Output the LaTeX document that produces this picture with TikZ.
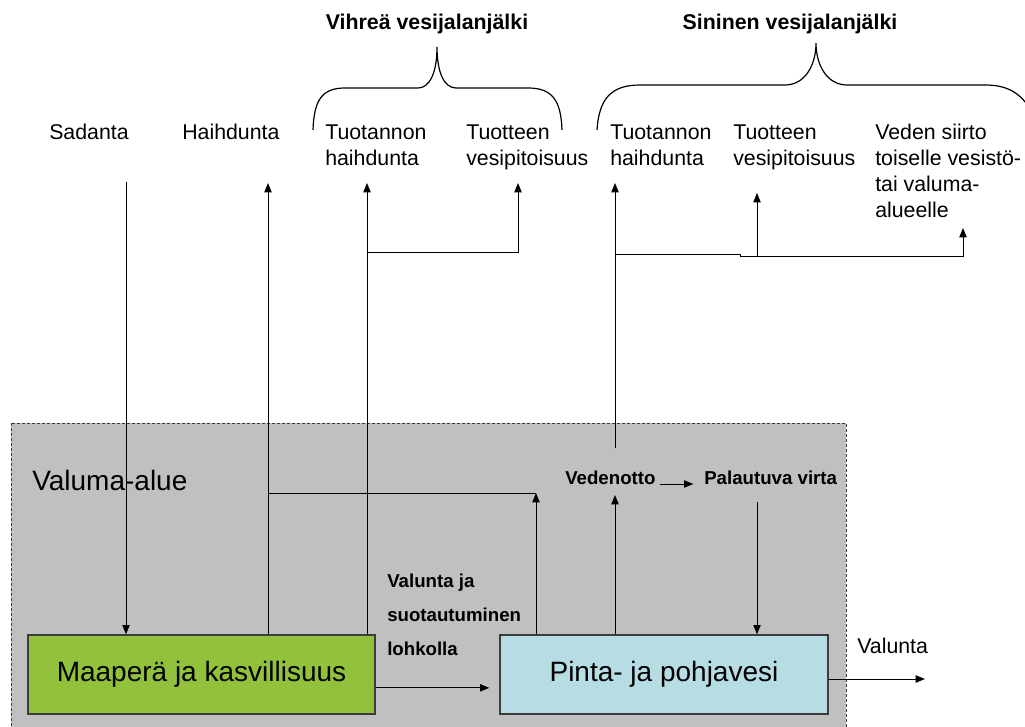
\documentclass[tikz,border=0pt]{standalone}
\usepackage{fontspec}
\setmainfont{Liberation Sans}
\usetikzlibrary{arrows.meta,positioning}

\definecolor{catchgray}{RGB}{192,192,192}
\definecolor{soilgreen}{RGB}{146,194,60}
\definecolor{waterblue}{RGB}{183,221,228}
\definecolor{edgegray}{RGB}{60,60,60}

\tikzset{
  lbl/.style={font=\fontsize{16}{19.5}\selectfont,align=left,inner sep=0pt,anchor=base west},
  ftitle/.style={font=\bfseries\fontsize{16}{19.5}\selectfont,inner sep=0pt,anchor=base},
  flow/.style={font=\bfseries\fontsize{14}{25.5}\selectfont,align=left,inner sep=0pt,anchor=base west},
  bigl/.style={font=\fontsize{21}{25}\selectfont,inner sep=0pt,anchor=base west},
  store/.style={draw=edgegray,line width=1pt,minimum height=59.25pt,inner sep=0pt,font=\fontsize{21}{25}\selectfont},
  link/.style={->,line width=0.75pt},
  brace/.style={line width=0.9pt},
  >={Triangle[length=7pt,width=5.5pt]}
}

\begin{document}
\begin{tikzpicture}[x=0.75pt,y=-0.75pt]
\useasboundingbox (0,0) rectangle (1025,727);

\draw [fill=catchgray,draw=edgegray,line width=0.75pt,dash pattern=on 2.25pt off 1.5pt] (11,423) rectangle (846,745);

\node (vihrea) at (427,30)[ftitle] {Vihreä vesijalanjälki};
\node (sininen) at (790,30)[ftitle] {Sininen vesijalanjälki};
\draw [brace] (313,130) .. controls (314,100) and (322,88) .. (345,88) -- (418,88) .. controls (430,88) and (437,72) .. (437,47) .. controls (437,72) and (444,88) .. (456,88) -- (528,88) .. controls (552,88) and (561,100) .. (562,130);
\draw [brace] (597,130) .. controls (599,100) and (610,85) .. (640,85) -- (785,85) .. controls (805,85) and (816,65) .. (816,43) .. controls (816,65) and (827,85) .. (847,85) -- (985,85) .. controls (1010,85) and (1022,95) .. (1032,112);

\node (sad) at (49,140)[lbl] {Sadanta};
\node (hai) at (182,140)[lbl] {Haihdunta};
\node (gTh) at (325,166)[lbl] {Tuotannon\\haihdunta};
\node (gTv) at (466,166)[lbl] {Tuotteen\\vesipitoisuus};
\node (bTh) at (610,166)[lbl] {Tuotannon\\haihdunta};
\node (bTv) at (733,166)[lbl] {Tuotteen\\vesipitoisuus};
\node (siirto) at (875,218)[lbl] {Veden siirto\\toiselle vesistö-\\tai valuma-\\alueelle};

\node (valuma) at (32,490)[bigl] {Valuma-alue};
\node (ved) at (565,484)[flow] {Vedenotto};
\node (pal) at (704,484)[flow] {Palautuva virta};
\node (lohko) at (387,655)[flow] {Valunta ja\\suotautuminen\\lohkolla};
\node (valunta) at (857,653)[lbl] {Valunta};

\node (maa) at (201.5,674.5)[store,fill=soilgreen,minimum width=260.25pt] {Maaperä ja kasvillisuus};
\node (pin) at (664,674.5)[store,fill=waterblue,minimum width=246pt] {Pinta- ja pohjavesi};

\coordinate (sadIn) at (126,182);
\coordinate (haiOut) at (268,183);
\coordinate (haiJ) at (268,493);
\coordinate (otto) at (536,493);
\coordinate (gThOut) at (367,183);
\coordinate (gJ) at (367,253);
\coordinate (gTvOut) at (518,183);
\coordinate (bThOut) at (615,183);
\coordinate (vedTop) at (615,448);
\coordinate (bJ) at (615,255);
\coordinate (bStep) at (740,255);
\coordinate (bTvJ) at (757,256.5);
\coordinate (bTvOut) at (757,193);
\coordinate (siirtoOut) at (963,228);
\coordinate (vedIn) at (615,495);
\coordinate (palOut) at (757,502);
\coordinate (runoff) at (925,679);

\draw [link] (sadIn) -- (sadIn |- maa.north);
\draw [link] (maa.north -| haiOut) -- (haiOut);
\draw [line width=0.75pt] (haiJ) -- (otto);
\draw [link] (pin.north -| otto) -- (otto);
\draw [link] (maa.north -| gThOut) -- (gThOut);
\draw [link] (gJ) -| (gTvOut);
\draw [link] (vedTop) -- (bThOut);
\draw [link] (bJ) -- (bStep) -- ++(0,1.5) -| (siirtoOut);
\draw [link] (bTvJ) -- (bTvOut);
\draw [link] (pin.north -| vedIn) -- (vedIn);
\draw [link] ([xshift=3pt]ved.base east) -- ([xshift=-8pt]pal.base west);
\draw [link] (palOut) -- (palOut |- pin.north);
\draw [link] ([yshift=-10pt]maa.east) -- ([xshift=-7.5pt,yshift=-10pt]pin.west);
\draw [link] (pin.east |- runoff) -- (runoff);
\end{tikzpicture}
\end{document}
